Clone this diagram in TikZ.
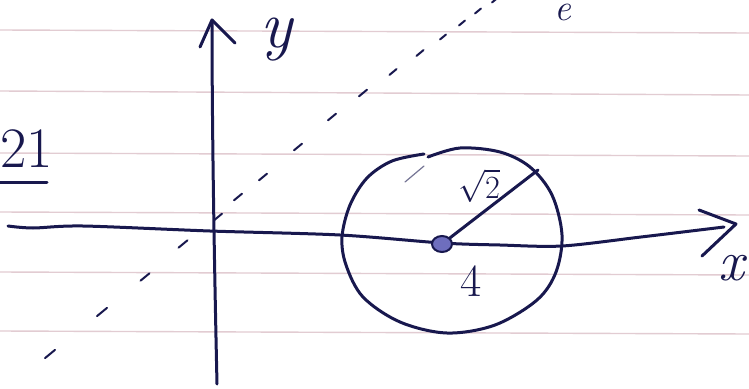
\documentclass[tikz,border=0pt]{standalone}
\definecolor{ink}{RGB}{24,24,78}
\definecolor{rule}{RGB}{226,204,210}
\definecolor{dotblue}{RGB}{110,110,190}
\begin{document}
\begin{tikzpicture}[x=1pt,y=-1pt,
  inkline/.style={draw=ink, line width=3pt, line cap=round, line join=round},
  thinink/.style={draw=ink, draw opacity=0.6, line width=1.2pt, line cap=round},
  ruleline/.style={draw=rule, line width=1.4pt},
  dashbit/.style={draw=ink, line width=2pt, line cap=round},
  lab/.style={text=ink, inner sep=0pt, font=\Huge}
]
\useasboundingbox (0,0) rectangle (749,388);
\clip (0,0) rectangle (749,388);
\fill[white] (0,0) rectangle (749,388);
% ruled paper
\foreach \a/\b in {30/33, 91/95, 153/156, 212/215, 272/275, 331/334}
  \draw[ruleline] (0,\a) -- (749,\b);
% dashed diagonal
\foreach \px/\py/\h in {50/354/5, 102/312/5, 145/277/4.5, 183/244/4.5, 218/217/4, 238/197/4, 263/177/4, 298/147/4, 332/117/4, 363/93/4, 393/72/3.5, 420/53/3.5, 443/37/3, 462/23/3, 478/11/3, 495/0/3}
  \draw[dashbit] ({\px-\h},{\py+0.82*\h}) -- ({\px+\h},{\py-0.82*\h});
% axes
\coordinate (ybot) at (217,384);
\coordinate (ytop) at (212,20);
\draw[inkline] (ybot) .. controls (214,250) and (212,120) .. (ytop);
\draw[inkline] (200,47) -- (ytop) -- (235,43);
\coordinate (xleft) at (8,226);
\coordinate (xright) at (724,227);
\draw[inkline] plot[smooth, tension=0.5] coordinates {(xleft) (33,228) (83,226) (210,231) (340,235) (442,243) (500,245) (562,246) (641,237) (xright)};
\coordinate (xtip) at (736,224);
\draw[inkline] (699,210) -- (xtip) -- (702,256);
% circle
\draw[inkline] plot[smooth, tension=0.55] coordinates {(428,157) (460,148) (500,152) (530,167) (552,195) (562,235) (556,272) (537,300) (495,325) (447,333) (400,322) (363,297) (346,265) (342,237) (350,205) (367,178) (392,161) (424,154)};
\draw[thinink] (405,182) -- (424,166);
% radius and centre
\coordinate (O) at (442,244);
\coordinate (R) at (538,170);
\draw[inkline] (O) -- (R);
\filldraw[fill=dotblue, draw=ink, line width=2pt] (O) ellipse [x radius=10, y radius=8];
% labels
\node[lab, scale=2.7] (ylab) at (276,40) {\itshape y};
\node[lab, scale=2.3] (xlab) at (731,268) {\itshape x};
\node[lab, scale=1.3] (rlab) at (479,186) {$\sqrt{2}$};
\node[lab, scale=1.85] (clab) at (471,281) {4};
\node[lab, scale=2.3, anchor=base west] (qnum) at (0,167) {21};
\draw[inkline] (0,182) -- (47,182);
\node[lab, scale=1.5, anchor=base] (etop) at (563,20) {\itshape e};
\end{tikzpicture}
\end{document}
